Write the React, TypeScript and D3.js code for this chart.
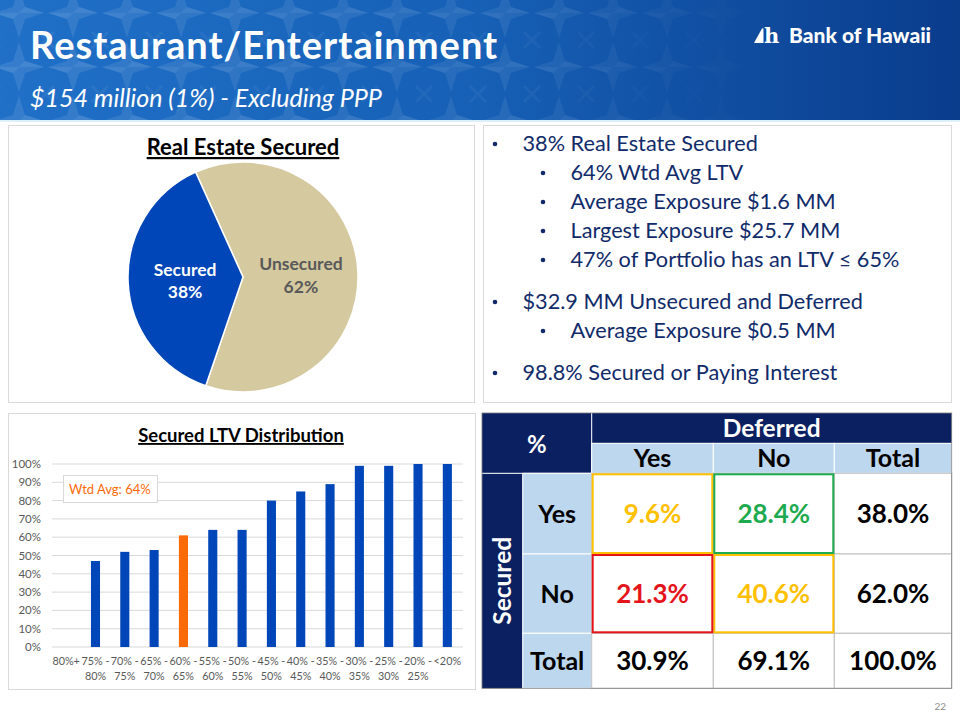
import React from 'react';
import * as d3 from 'd3';

// ---------- DATA ----------
const pageTitle = 'Restaurant/Entertainment';
const pageSubtitle = '$154 million (1%) - Excluding PPP';
const pageNumber = '22';

const pieTitle = 'Real Estate Secured';
const pieCategories = ['Unsecured', 'Secured'];
const pieValues = [62, 38];

const barTitle = 'Secured LTV Distribution';
const ltvCategories = ['80%+', '75% - 80%', '70% - 75%', '65% - 70%', '60% - 65%', '55% - 60%', '50% - 55%', '45% - 50%', '40% - 45%', '35% - 40%', '30% - 35%', '25% - 30%', '20% - 25%', '<20%'];
const ltvValues = [0, 47, 52, 53, 61, 64, 64, 80, 85, 89, 99, 99, 100, 100];
const ltvHighlight = '60% - 65%';
const wtdAvgLabel = 'Wtd Avg: 64%';
const yTicks = [0, 10, 20, 30, 40, 50, 60, 70, 80, 90, 100];

const bulletLevels = [1, 2, 2, 2, 2, 1, 2, 1];
const bulletTexts = [
  '38% Real Estate Secured',
  '64% Wtd Avg LTV',
  'Average Exposure $1.6 MM',
  'Largest Exposure $25.7 MM',
  '47% of Portfolio has an LTV \u2264 65%',
  '$32.9 MM Unsecured and Deferred',
  'Average Exposure $0.5 MM',
  '98.8% Secured or Paying Interest',
];

const tableCorner = '%';
const tableColGroup = 'Deferred';
const tableRowGroup = 'Secured';
const deferredHeaders = ['Yes', 'No', 'Total'];
const securedRows = ['Yes', 'No', 'Total'];
const tableValues = [
  [9.6, 28.4, 38.0],
  [21.3, 40.6, 62.0],
  [30.9, 69.1, 100.0],
];

// ---------- STYLE ----------
const FONT = "Lato, 'Open Sans', 'DejaVu Sans', sans-serif";
const BLUE = '#0046B8';
const ORANGE = '#FB6A09';
const BEIGE = '#D5C9A0';
const NAVY = '#0B2060';
const LIGHTBLUE = '#BDD7EE';
const GOLD = '#FFC000';
const GREEN = '#1EAA4E';
const RED = '#E5141B';
const TEXTNAVY = '#112B6A';
const GRAYTXT = '#595959';

const cellColors = [
  [GOLD, GREEN, '#000'],
  [RED, GOLD, '#000'],
  ['#000', '#000', '#000'],
];

export default function App() {
  // Pie
  const cx = 243, cy = 277, r = 115;
  const a0 = (-24.3 * Math.PI) / 180;
  const pie = d3.pie<number>().sort(null).startAngle(a0).endAngle(a0 + 2 * Math.PI);
  const arcs = pie(pieValues);
  const arcGen = d3.arc<d3.PieArcDatum<number>>().innerRadius(0).outerRadius(r);
  const labelArc = d3.arc<d3.PieArcDatum<number>>().innerRadius(58).outerRadius(58);
  const pieColors = [BEIGE, BLUE];
  const pieTextColors = [GRAYTXT, '#FFFFFF'];

  // Bars
  const x = d3.scaleBand<string>().domain(ltvCategories).range([51.5, 462]).paddingInner(0.69).paddingOuter(0.345);
  const y = d3.scaleLinear().domain([0, 100]).range([647, 464]);
  const fmtPct = (v: number) => d3.format('.1f')(v) + '%';

  // Table layout
  const colX = [482, 522.7, 591.7, 713.3, 834.3, 951.7];
  const rowY = [413, 443.3, 473.3, 554, 633.3, 688.3];

  const splitLabel = (s: string) => {
    const i = s.indexOf(' - ');
    return i < 0 ? [s] : [s.slice(0, i + 2), s.slice(i + 3)];
  };

  return (
    <svg width={960} height={720} style={{ position: 'absolute', left: 0, top: 0, background: '#fff' }} fontFamily={FONT}>
      <defs>
        <linearGradient id="hdr" x1="0" y1="0" x2="1" y2="0">
          <stop offset="0" stopColor="#2070C8" />
          <stop offset="0.5" stopColor="#1660B6" />
          <stop offset="1" stopColor="#0A3C8C" />
        </linearGradient>
        <linearGradient id="fade" x1="0" y1="0" x2="1" y2="0">
          <stop offset="0" stopColor="#fff" stopOpacity="1" />
          <stop offset="0.55" stopColor="#fff" stopOpacity="0.7" />
          <stop offset="0.8" stopColor="#fff" stopOpacity="0" />
        </linearGradient>
        <mask id="fadeMask">
          <rect x={0} y={0} width={960} height={120} fill="url(#fade)" />
        </mask>
        <pattern id="stars" x={-8} y={-14} width={54} height={54} patternUnits="userSpaceOnUse">
          <path d="M27 2 L33 21 L52 27 L33 33 L27 52 L21 33 L2 27 L21 21 Z" fill="#ffffff" fillOpacity={0.1} />
          <path d="M27 27 L33 21 L52 27 Z M27 27 L21 33 L2 27 Z" fill="#ffffff" fillOpacity={0.07} />
          <path d="M0 0 L8 8 M54 0 L46 8 M0 54 L8 46 M54 54 L46 46" stroke="#ffffff" strokeOpacity={0.06} strokeWidth={3} />
        </pattern>
      </defs>

      {/* Header */}
      <rect x={0} y={0} width={960} height={120} fill="url(#hdr)" />
      <rect x={0} y={0} width={960} height={120} fill="url(#stars)" mask="url(#fadeMask)" />
      <rect x={0} y={120} width={960} height={2} fill="#DDEFF8" />
      <text x={30} y={58.5} fill="#fff" fontSize={38} fontWeight={700} letterSpacing={1}>{pageTitle}</text>
      <text x={30} y={107} fill="#fff" fontSize={25} fontStyle="italic">{pageSubtitle}</text>
      <g fill="#fff">
        <path d="M754 43 L762 28.5 L763.5 28.5 L763.5 43 Z" />
        <text x={764} y={43} fontSize={21} fontWeight={900} fontFamily="'DejaVu Serif', serif">h</text>
        <text x={789} y={43} fontSize={21} fontWeight={900}>Bank of Hawaii</text>
      </g>

      {/* Panels */}
      <rect x={8.5} y={125.5} width={466} height={277} fill="#fff" stroke="#D9D9D9" />
      <rect x={483.5} y={125.5} width={468} height={277} fill="#fff" stroke="#D9D9D9" />
      <rect x={8.5} y={413.5} width={467} height={276} fill="#fff" stroke="#D9D9D9" />

      {/* Pie */}
      <text x={243} y={155} textAnchor="middle" fontSize={22} fontWeight={700} fill="#000" textDecoration="underline">{pieTitle}</text>
      <g transform={`translate(${cx},${cy})`}>
        {arcs.map((a, i) => (
          <path key={i} d={arcGen(a) || ''} fill={pieColors[i]} stroke="#fff" strokeWidth={1.5} />
        ))}
        {arcs.map((a, i) => {
          const [lx, ly] = labelArc.centroid(a);
          return (
            <text key={'l' + i} x={lx} y={ly} textAnchor="middle" fontSize={17.5} fontWeight={700} fill={pieTextColors[i]}>
              <tspan x={lx} dy={-4}>{pieCategories[i]}</tspan>
              <tspan x={lx} dy={22.5}>{d3.format('.0f')(a.data)}%</tspan>
            </text>
          );
        })}
      </g>

      {/* Bullets */}
      {bulletTexts.map((t, i) => {
        const baselines = [151, 180, 209, 238, 267, 309, 338, 380];
        const lvl = bulletLevels[i];
        const bx = lvl === 1 ? 495 : 543;
        const tx = lvl === 1 ? 522.5 : 570.5;
        return (
          <g key={i} fill={TEXTNAVY}>
            <circle cx={bx} cy={baselines[i] - 7} r={2.3} />
            <text x={tx} y={baselines[i]} fontSize={21.7}>{t}</text>
          </g>
        );
      })}

      {/* Bar chart */}
      <text x={241} y={442} textAnchor="middle" fontSize={18.5} fontWeight={700} fill="#000" textDecoration="underline">{barTitle}</text>
      {yTicks.map((t) => (
        <g key={t}>
          <line x1={52} x2={463} y1={y(t)} y2={y(t)} stroke="#D9D9D9" strokeWidth={1} />
          <text x={41} y={y(t) + 4} textAnchor="end" fontSize={11.5} fill={GRAYTXT}>{t}%</text>
        </g>
      ))}
      {ltvCategories.map((c, i) => (
        <rect key={c} x={x(c)} y={y(ltvValues[i])} width={x.bandwidth()} height={y(0) - y(ltvValues[i])} fill={c === ltvHighlight ? ORANGE : BLUE} />
      ))}
      {ltvCategories.map((c) => {
        const cxp = (x(c) || 0) + x.bandwidth() / 2;
        const lines = splitLabel(c);
        return (
          <text key={'x' + c} textAnchor="middle" fontSize={10.8} fill={GRAYTXT}>
            {lines.map((ln, j) => (
              <tspan key={j} x={cxp} y={665 + j * 15}>{ln}</tspan>
            ))}
          </text>
        );
      })}
      <rect x={63.5} y={475.5} width={94} height={27} fill="#fff" stroke="#D9D9D9" />
      <text x={69} y={494} fontSize={13} fill={ORANGE}>{wtdAvgLabel}</text>

      {/* Table */}
      <rect x={colX[0]} y={rowY[0]} width={colX[2] - colX[0]} height={rowY[2] - rowY[0]} fill={NAVY} />
      <rect x={colX[2]} y={rowY[0]} width={colX[5] - colX[2]} height={rowY[1] - rowY[0]} fill={NAVY} />
      <rect x={colX[0]} y={rowY[2]} width={colX[1] - colX[0]} height={rowY[5] - rowY[2]} fill={NAVY} />
      <line x1={colX[0]} x2={colX[2]} y1={rowY[2]} y2={rowY[2]} stroke="#fff" strokeWidth={1} />
      <line x1={colX[2]} x2={colX[2]} y1={rowY[0]} y2={rowY[2]} stroke="#fff" strokeWidth={1} />
      {deferredHeaders.map((h, j) => (
        <g key={'h' + j}>
          <rect x={colX[2 + j]} y={rowY[1]} width={colX[3 + j] - colX[2 + j]} height={rowY[2] - rowY[1]} fill={LIGHTBLUE} stroke="#fff" strokeWidth={1} />
          <text x={(colX[2 + j] + colX[3 + j]) / 2} y={rowY[2] - 6} textAnchor="middle" fontSize={25} fontWeight={700} fill="#000">{h}</text>
        </g>
      ))}
      {securedRows.map((h, i) => (
        <g key={'r' + i}>
          <rect x={colX[1]} y={rowY[2 + i]} width={colX[2] - colX[1]} height={rowY[3 + i] - rowY[2 + i]} fill={LIGHTBLUE} stroke="#fff" strokeWidth={1} />
          <text x={(colX[1] + colX[2]) / 2} y={(rowY[2 + i] + rowY[3 + i]) / 2 + 9} textAnchor="middle" fontSize={25} fontWeight={700} fill="#000">{h}</text>
        </g>
      ))}
      {tableValues.map((row, i) =>
        row.map((v, j) => (
          <g key={'c' + i + j}>
            <rect x={colX[2 + j]} y={rowY[2 + i]} width={colX[3 + j] - colX[2 + j]} height={rowY[3 + i] - rowY[2 + i]} fill="#fff" stroke="#BFBFBF" strokeWidth={1} />
            <text x={(colX[2 + j] + colX[3 + j]) / 2} y={(rowY[2 + i] + rowY[3 + i]) / 2 + 9.5} textAnchor="middle" fontSize={26} fontWeight={700} fill={cellColors[i][j]}>{fmtPct(v)}</text>
          </g>
        ))
      )}
      {/* colored highlight borders */}
      <rect x={colX[2] + 1} y={rowY[2] + 1} width={colX[3] - colX[2] - 2} height={rowY[3] - rowY[2] - 2} fill="none" stroke={GOLD} strokeWidth={2} />
      <rect x={colX[3] + 1} y={rowY[3] + 1} width={colX[4] - colX[3] - 2} height={rowY[4] - rowY[3] - 2} fill="none" stroke={GOLD} strokeWidth={2} />
      <rect x={colX[3] + 1} y={rowY[2] + 1} width={colX[4] - colX[3] - 2} height={rowY[3] - rowY[2] - 2} fill="none" stroke={GREEN} strokeWidth={2} />
      <rect x={colX[2] + 1} y={rowY[3] + 1} width={colX[3] - colX[2] - 2} height={rowY[4] - rowY[3] - 2} fill="none" stroke={RED} strokeWidth={2} />
      <text x={(colX[0] + colX[2]) / 2} y={453} textAnchor="middle" fontSize={24} fontWeight={700} fill="#fff">{tableCorner}</text>
      <text x={(colX[2] + colX[5]) / 2} y={437} textAnchor="middle" fontSize={24.5} fontWeight={700} fill="#fff">{tableColGroup}</text>
      <text transform={`translate(${(colX[0] + colX[1]) / 2 + 8.5},${(rowY[2] + rowY[5]) / 2}) rotate(-90)`} textAnchor="middle" fontSize={24.5} fontWeight={700} fill="#fff">{tableRowGroup}</text>
      <rect x={colX[0]} y={rowY[0]} width={colX[5] - colX[0]} height={rowY[5] - rowY[0]} fill="none" stroke="#7F7F7F" strokeWidth={0.8} />

      <text x={946} y={710} textAnchor="end" fontSize={10} fill="#8C8C8C">{pageNumber}</text>
    </svg>
  );
}
